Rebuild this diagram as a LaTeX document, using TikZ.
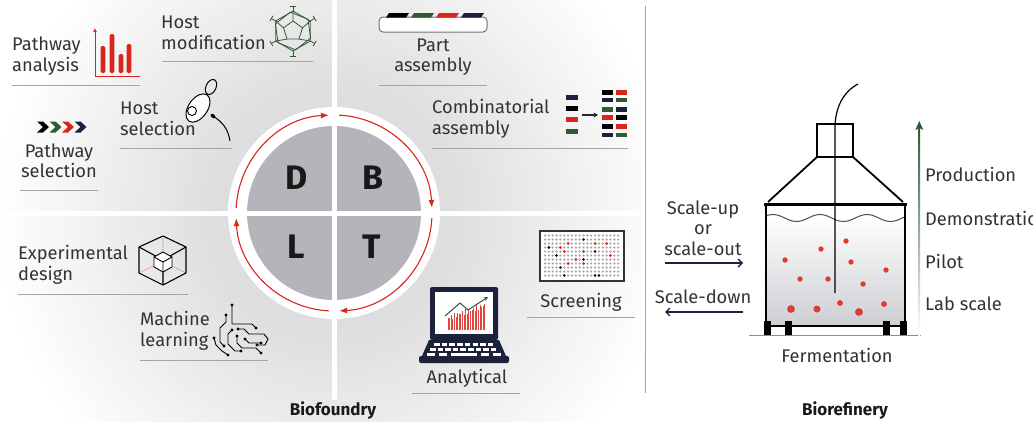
\documentclass[tikz,border=0pt]{standalone}
\usepackage{fontspec}
\setmainfont{Fira Sans}
\usetikzlibrary{arrows.meta}

\definecolor{cyclered}{HTML}{D8261D}
\definecolor{leafgreen}{HTML}{2F5A37}
\definecolor{inknavy}{HTML}{1B2239}
\definecolor{quadgray}{HTML}{B4B5BA}
\definecolor{textgray}{HTML}{333333}
\definecolor{rulegray}{HTML}{A5A5A5}

\tikzset{
  stagetext/.style={text=textgray, font=\fontsize{18.3}{20.5}\selectfont, inner sep=0pt},
  headtext/.style={text=black!90, font=\fontsize{17}{20}\selectfont\bfseries, inner sep=0pt},
  quadletter/.style={text=black!90, font=\fontsize{34}{34}\selectfont\bfseries, inner sep=0pt},
  sepline/.style={draw=rulegray, line width=0.9pt},
  cyclearc/.style={draw=cyclered, line width=1.1pt, -{Latex[length=8pt,width=6pt]}},
  scalearrow/.style={draw=inknavy, line width=1.3pt, -{Straight Barb[length=4pt,width=8pt]}},
  trace/.style={draw=black, line width=0.9pt, line join=round},
}

\begin{document}
\begin{tikzpicture}[x=1pt,y=-1pt]

    % page
    \clip (0,0) rectangle (1033,421);
    \fill[white] (0,0) rectangle (1033,421);

    % grey haze behind the cycle, fading out in rings
    \begin{scope}
        \clip (0,0) rectangle (640,421);
        \foreach \r in {340,335,...,106} {
            \pgfmathsetmacro\g{max(0,min(13,13*(340-\r)/220))}
            \fill[black!\g] (334,213) circle (\r);
        }
    \end{scope}

    % cycle disc
    \fill[white] (334,213) circle (106);
    \fill[quadgray] (334,213) circle (87);

    % white cross between the quarters
    \fill[white] (0,210.5) rectangle (640,215.5);
    \fill[white] (331.5,0) rectangle (336.5,400);

    \node[quadletter] (qD) at (297,178) {D};
    \node[quadletter] (qB) at (373,178) {B};
    \node[quadletter] (qL) at (296,247) {L};
    \node[quadletter] (qT) at (372,247) {T};

    % arrows round the cycle
    \draw[cyclearc] (334,213) ++(183:98) arc[start angle=183, end angle=267, radius=98];
    \draw[cyclearc] (334,213) ++(273:98) arc[start angle=273, end angle=357, radius=98];
    \draw[cyclearc] (334,213) ++(3:98) arc[start angle=3, end angle=87, radius=98];
    \draw[cyclearc] (334,213) ++(93:98) arc[start angle=93, end angle=177, radius=98];

    % ---------- design ----------
    \node[stagetext, anchor=west, align=left] (pwanalysis) at (12,56) {Pathway\\analysis};
    \draw[sepline] (12,85) -- (140,85);
    % bar chart
    \draw[cyclered, line width=0.8pt, {Latex[length=4pt,width=4pt]}-] (95,28) -- (95,76) -- (140,76);
    \foreach \x/\t in {103/46,112/34,121/54,129/44}
        \fill[cyclered, rounded corners=1.5pt] ({\x-2.4},\t) rectangle ({\x+2.4},73);

    \node[stagetext, anchor=west, align=left] (hostmod) at (161,33) {Host\\modification};
    \draw[sepline] (162,61) -- (313,61);
    % capsid
    \begin{scope}[shift={(293,31)}, leafgreen, line width=0.8pt, line join=round]
        \draw (90:20) -- (150:20) -- (210:20) -- (270:20) -- (330:20) -- (30:20) -- cycle;
        \draw[rotate=8] (90:19) -- (150:19) -- (210:19) -- (270:19) -- (330:19) -- (30:19) -- cycle;
        \draw (270:10) -- (342:10) -- (54:10) -- (126:10) -- (198:10) -- cycle;
        \draw (270:10) -- (270:20) (342:10) -- (330:20) (54:10) -- (30:20)
              (126:10) -- (150:20) (198:10) -- (210:20);
        \foreach \a in {30,90,...,330}
            \draw (\a:20) -- (\a:25) ++({\a+90}:3) -- ++({\a-90}:6);
    \end{scope}

    \node[stagetext, anchor=west, align=left] (hostsel) at (120,119) {Host\\selection};
    \draw[sepline] (120,148) -- (232,148);
    % yeast cell
    \draw[line width=1pt, rotate around={-25:(211,87)}] (211,87) ellipse [x radius=5, y radius=8];
    \draw[line width=1pt, fill=white, rotate around={-35:(198,108)}] (198,108) ellipse [x radius=9.5, y radius=16];
    \draw[line width=0.9pt] (192,111) circle (4.5);
    \fill[rotate around={-40:(213,116)}] (213,116) ellipse [x radius=2.8, y radius=1.8];
    \draw[line width=1pt] (213,116) .. controls (222,122) and (228,128) .. (230,141);

    % pathway chevrons
    \foreach \x/\c in {37/black,49.5/leafgreen,62/cyclered,74.5/inknavy}
        \fill[\c] (\x,121.5) -- ++(6,0) -- ++(6,5.5) -- ++(-6,5.5) -- ++(-6,0) -- ++(6,-5.5) -- cycle;
    \node[stagetext, align=center] (pwsel) at (59,161) {Pathway\\selection};
    \draw[sepline] (20,190) -- (98,190);

    % ---------- build ----------
    \draw[black!55, line width=1pt, rounded corners=4pt, fill=white] (379,17) rectangle (487,32);
    \foreach \x/\c in {386/black,411/leafgreen,436/cyclered,461/inknavy}
        \fill[\c] (\x,17.5) -- ++(20,0) -- ++(3,-4.5) -- ++(-20,0) -- cycle;
    \node[stagetext, align=center] (partasm) at (433,57) {Part\\assembly};
    \draw[sepline] (379,85) -- (487,85);

    \node[stagetext, anchor=west, align=left] (combasm) at (432,119) {Combinatorial\\assembly};
    \draw[sepline] (432,148) -- (628,148);
    % parts into library
    \foreach \y/\c in {95/inknavy,106/black,117/cyclered,129/leafgreen}
        \fill[\c] (566,\y) rectangle ++(12,5);
    \draw[black!85, line width=1.1pt, -{Stealth[length=4.5pt,width=5pt]}] (582,115) -- (598,115);
    \foreach \y/\a/\b in {90/black/cyclered,97.5/inknavy/leafgreen,107.3/leafgreen/inknavy,
                          115/cyclered/black,124.3/black/cyclered,132.7/inknavy/leafgreen} {
        \fill[\a] (602,\y) rectangle ++(11,4.5);
        \fill[\b] (616,\y) rectangle ++(11,4.5);
    }

    % ---------- learn ----------
    \node[stagetext, anchor=west, align=left] (expdesign) at (18,265) {Experimental\\design};
    \draw[sepline] (18,294) -- (188,294);
    % design cube
    \begin{scope}[shift={(163,261)}, line join=round]
        \draw[cyclered, densely dotted, line width=0.6pt] (0,0) -- (0,-25) (0,0) -- (-24,12) (0,0) -- (23,12);
        \draw[line width=1.1pt] (0,-25) -- (23,-14) -- (23,12) -- (0,24) -- (-24,12) -- (-24,-14) -- cycle;
        \draw[line width=1.1pt] (-24,-14) -- (0,-1) -- (23,-14) (0,-1) -- (0,24);
        \draw[line width=0.9pt, fill=white] (0,-9) -- (9,-4) -- (9,6) -- (0,11) -- (-9,6) -- (-9,-4) -- cycle;
        \draw[line width=0.9pt] (-9,-4) -- (0,1) -- (9,-4) (0,1) -- (0,11);
    \end{scope}

    \node[stagetext, anchor=west, align=left] (mlearn) at (140,331) {Machine\\learning};
    \draw[sepline] (140,360) -- (268,360);
    % circuit
    \draw[trace] (232,305) -- (232,324) -- (252,324) -- (256,328);
    \draw[trace] (226,315) -- (226,322) -- (220,328) -- (220,342) -- (224,346);
    \draw[trace] (232,330) -- (228,334) -- (228,344) -- (235,351) -- (241,351);
    \draw[trace] (238,329) -- (244,329) -- (249,334) -- (264,334) -- (268,339) -- (265,345) -- (257,345);
    \draw[trace] (237,336) -- (237,343) -- (242,348) -- (256,348) -- (261,353);
    \draw[trace] (245,339) -- (249,343) -- (261,343);
    \draw[trace] (214,338) -- (216,345) -- (222,351) -- (228,355);
    \foreach \p in {(232,305),(256,328),(226,315),(224,346),(232,330),(241,351),(238,329),
                    (257,345),(237,336),(261,353),(245,339),(261,343),(214,338),(228,355)}
        \fill \p circle (1.7);

    % ---------- test ----------
    % well plate
    \draw[black!80, fill=white, line width=1.3pt] (540,231) rectangle (624,281);
    \foreach \i in {0,...,19}
        \foreach \j in {0,...,10}
            \fill[black!35] ({545+\i*3.85},{235.5+\j*4}) circle (1.25);
    \foreach \i/\j in {6/2,13/2,16/2,4/3,5/4,10/4,17/5,8/6,6/7,10/7}
        \fill[cyclered] ({545+\i*3.85},{235.5+\j*4}) circle (1.5);
    \foreach \i/\j in {1/3,10/1,3/5,10/6,4/8,13/4,5/10,13/10,14/10}
        \fill[black] ({545+\i*3.85},{235.5+\j*4}) circle (1.4);
    \node[stagetext] (screen) at (581,302) {Screening};
    \draw[sepline] (527,317) -- (635,317);

    % laptop
    \fill[inknavy, rounded corners=2pt] (430,287) rectangle (498,340);
    \fill[white] (435,292) rectangle (493,334);
    \foreach \x in {448,449.6,...,485}
        \draw[cyclered!85, line width=0.9pt] (\x,330) -- (\x,{318-0.35*(\x-448)+2.5*sin((\x-448)*97)});
    \draw[leafgreen, line width=1pt, -{Stealth[length=4pt,width=4pt]}] (445,316) -- (460,303) -- (468,310) -- (488,297);
    \fill[inknavy] (429,340) -- (499,340) -- (506,356) -- (422,356) -- cycle;
    \fill[inknavy, rounded corners=2pt] (419,356) rectangle (509,363);
    \foreach \k in {0,...,7}
        \fill[white] ({434+\k*7.7},343) rectangle ++(5.5,2.5);
    \foreach \k in {0,...,8}
        \fill[white] ({430+\k*7.6},348) rectangle ++(5.5,2.5);
    \foreach \x/\w in {427/8,439/8,451/26,481/8,493/8}
        \fill[white] (\x,353) rectangle ++(\w,2.5);
    \node[stagetext] (analyt) at (467,378) {Analytical};
    \draw[sepline] (412,393) -- (520,393);

    \node[headtext] (biofoundry) at (333,410) {Biofoundry};

    % ---------- biorefinery ----------
    \draw[black!35, line width=0.8pt] (645,6) -- (645,393);

    % broth
    \shade[top color=white, bottom color=inknavy!22] plot[domain=766:905, samples=60] (\x,{218-3.5*cos((\x-773)*7.66)}) -- (905,326) -- (766,326) -- cycle;
    \draw[inknavy!80, line width=1pt] plot[domain=766:905, samples=60] (\x,{218-3.5*cos((\x-773)*7.66)});
    % cells
    \foreach \x/\y/\r in {846/241/2.7,821/249/2.7,785/260/2.7,851/262/2.7,886/270/2.7,800/279/2.7,828/279/2.7,
                          863/284/2.7,791/309/3.9,817/309/3.5,840/303/2.9,859/312/3.9,884/304/2.9}
        \fill[cyclered!90] (\x,\y) circle (\r);
    % vessel
    \draw[line width=2.2pt] (766,205) rectangle (905,326);
    \draw[line width=3pt] (764,204) -- (907,204);
    \draw[line width=1.8pt, line join=round] (768,202) -- (817,157) -- (853,157) -- (903,202);
    \draw[line width=1.6pt] (817,124) rectangle (853,157);
    \draw[line width=1.2pt] (858,84) .. controls (843,92) and (835,108) .. (835,128) -- (835,293);
    \draw[black!45, line width=1pt] (749,335) -- (921,335);
    \foreach \x in {764,785,883,900}
        \fill (\x,321) rectangle ++(6.5,14);
    \node[stagetext] (ferment) at (837,355) {Fermentation};

    % scale-up arrow
    \shade[top color=leafgreen, bottom color=white] (918.4,128) rectangle (920.2,335);
    \fill[leafgreen] (915.3,130) -- (919.3,121) -- (923.3,130) -- (919.3,128) -- cycle;
    \node[stagetext, anchor=west] (prod) at (925,174) {Production};
    \node[stagetext, anchor=west] (demo) at (925,218) {Demonstration};
    \node[stagetext, anchor=west] (pilot) at (925,261) {Pilot};
    \node[stagetext, anchor=west] (labscale) at (925,304) {Lab scale};

    \node[stagetext, align=center] (scaleup) at (703,228) {Scale-up\\or\\scale-out};
    \node[stagetext] (scaledown) at (703,297) {Scale-down};
    \coordinate (upfrom) at (665,263);
    \coordinate (upto) at (743,263);
    \coordinate (downfrom) at (743,312);
    \coordinate (downto) at (665,312);
    \draw[scalearrow] (upfrom) -- (upto);
    \draw[scalearrow] (downfrom) -- (downto);

    \node[headtext] (biorefinery) at (845,410) {Biorefinery};

\end{tikzpicture}
\end{document}
